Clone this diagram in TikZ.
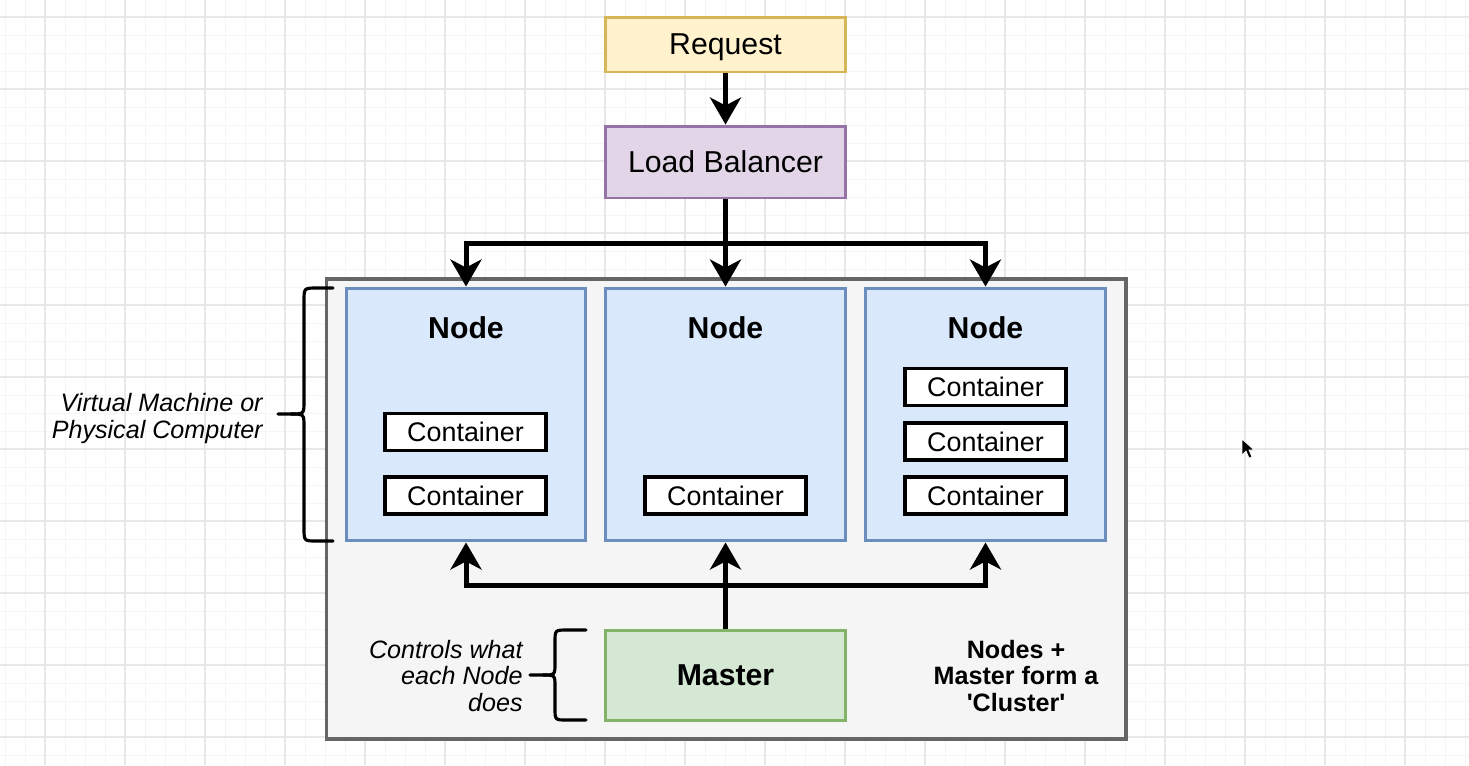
\documentclass[tikz,border=0pt]{standalone}
\usepackage{fontspec}
\setmainfont{Liberation Sans}
\usetikzlibrary{arrows.meta}

\definecolor{reqfill}{HTML}{FFF2CC}
\definecolor{reqline}{HTML}{D6B656}
\definecolor{lbfill}{HTML}{E1D5E7}
\definecolor{lbline}{HTML}{9673A6}
\definecolor{vmfill}{HTML}{DAE8FC}
\definecolor{vmline}{HTML}{6C8EBF}
\definecolor{mastfill}{HTML}{D5E8D4}
\definecolor{mastline}{HTML}{82B366}
\definecolor{clusfill}{HTML}{F5F5F5}
\definecolor{clusline}{HTML}{666666}
\definecolor{gridminor}{HTML}{F5F5F5}
\definecolor{gridmajor}{HTML}{E8E8E8}

\newcommand\bigtxt{\fontsize{17.2}{20}\selectfont}
\newcommand\ctrtxt{\fontsize{15.3}{18}\selectfont}
\newcommand\notetxt{\fontsize{14.3}{15.3}\selectfont}

\begin{document}
\begin{tikzpicture}[x=0.02cm,y=-0.02cm,
    box/.style={draw,line width=1.7pt,minimum width=4.82cm,inner sep=0pt,text depth=0pt,font=\bigtxt},
    vm/.style={draw=vmline,fill=vmfill,line width=1.7pt,minimum width=4.8cm,minimum height=5.06cm,inner sep=0pt},
    ctr/.style={draw=black,fill=white,line width=1.9pt,minimum width=3.22cm,minimum height=0.74cm,inner sep=0pt,text depth=0pt,font=\ctrtxt},
    heading/.style={font=\bigtxt\bfseries,inner sep=0pt},
    note/.style={font=\notetxt\itshape,inner sep=0pt},
    flow/.style={line width=2.85pt,-{Stealth[length=0.54cm,width=0.62cm,inset=0.16cm]}},
    curly/.style={line width=1.8pt,line cap=round}]

  \useasboundingbox (0,0) rectangle (1469,765);
  \fill[white] (0,0) rectangle (1469,765);

  % background grid
  \foreach \gx in {5,25,...,1465}
    \draw[gridminor,line width=0.5pt] (\gx,0) -- (\gx,765);
  \foreach \gy in {-1,17,...,765}
    \draw[gridminor,line width=0.5pt] (0,\gy) -- (1469,\gy);
  \foreach \gx in {45,125,...,1445}
    \draw[gridmajor,line width=0.6pt] (\gx,0) -- (\gx,765);
  \foreach \gy in {17,89,...,765}
    \draw[gridmajor,line width=0.6pt] (0,\gy) -- (1469,\gy);

  % cluster
  \node[draw=clusline,fill=clusfill,line width=1.8pt,minimum width=16cm,minimum height=9.2cm,inner sep=0pt] (cluster) at (726,509) {};

  \node[box,draw=reqline,fill=reqfill,minimum height=1.1cm] (request) at (725.5,44.5) {Request};
  \node[box,draw=lbline,fill=lbfill,minimum height=1.44cm] (balancer) at (725.5,162) {Load Balancer};

  \node[vm] (vm1) at (466,414.5) {};
  \node[vm] (vm2) at (725.5,414.5) {};
  \node[vm] (vm3) at (985.5,414.5) {};

  \node[heading] (title1) at (466,328) {Node};
  \node[heading] (title2) at (725.5,328) {Node};
  \node[heading] (title3) at (985.5,328) {Node};

  \node[ctr] (c11) at (465.5,432) {Container};
  \node[ctr] (c12) at (465.5,495.5) {Container};
  \node[ctr] (c21) at (725.5,495.5) {Container};
  \node[ctr] (c31) at (985.5,387) {Container};
  \node[ctr] (c32) at (985.5,441.5) {Container};
  \node[ctr] (c33) at (985.5,495.5) {Container};

  \node[box,draw=mastline,fill=mastfill,minimum height=1.8cm,font=\bigtxt\bfseries] (master) at (725.5,675) {Master};

  % load balancer to nodes
  \coordinate (split) at (725.5,243);
  \draw[flow] (request) -- (balancer);
  \draw[flow] (balancer) -- (vm2);
  \draw[flow] (balancer.south) -- (split) -| (vm1.north);
  \draw[flow] (split) -| (vm3.north);

  % master to nodes
  \coordinate (merge) at (725.5,585);
  \draw[flow] (master) -- (vm2);
  \draw[flow] (master.north) -- (merge) -| (vm1.south);
  \draw[flow] (merge) -| (vm3.south);

  % braces
  \draw[curly] (333,288) -- (317,288) .. controls (304,288) .. (304,301) -- (304,401)
    .. controls (304,414) .. (291,414) -- (278,414);
  \draw[curly] (291,414) .. controls (304,414) .. (304,427) -- (304,528)
    .. controls (304,541) .. (317,541) -- (333,541);
  \draw[curly] (586,630) -- (567,630) .. controls (555,630) .. (555,642) -- (555,663)
    .. controls (555,675) .. (543,675) -- (530,675);
  \draw[curly] (543,675) .. controls (555,675) .. (555,687) -- (555,708)
    .. controls (555,720) .. (567,720) -- (586,720);

  \node[note,anchor=east,align=right] (vmnote) at (263,418.5) {Virtual Machine or\\Physical Computer};
  \node[note,anchor=east,align=right] (mastnote) at (523,676) {Controls what\\each Node\\does};
  \node[font=\notetxt\bfseries,align=center,inner sep=0pt] (clusnote) at (1016,676) {Nodes +\\Master form a\\\textquotesingle Cluster\textquotesingle};

  % mouse pointer
  \filldraw[fill=black,draw=white,line width=0.4pt] (1242,439) -- (1242,455) -- (1246,451)
    -- (1249,458) -- (1252,457) -- (1249,450) -- (1254,450) -- cycle;
\end{tikzpicture}
\end{document}
